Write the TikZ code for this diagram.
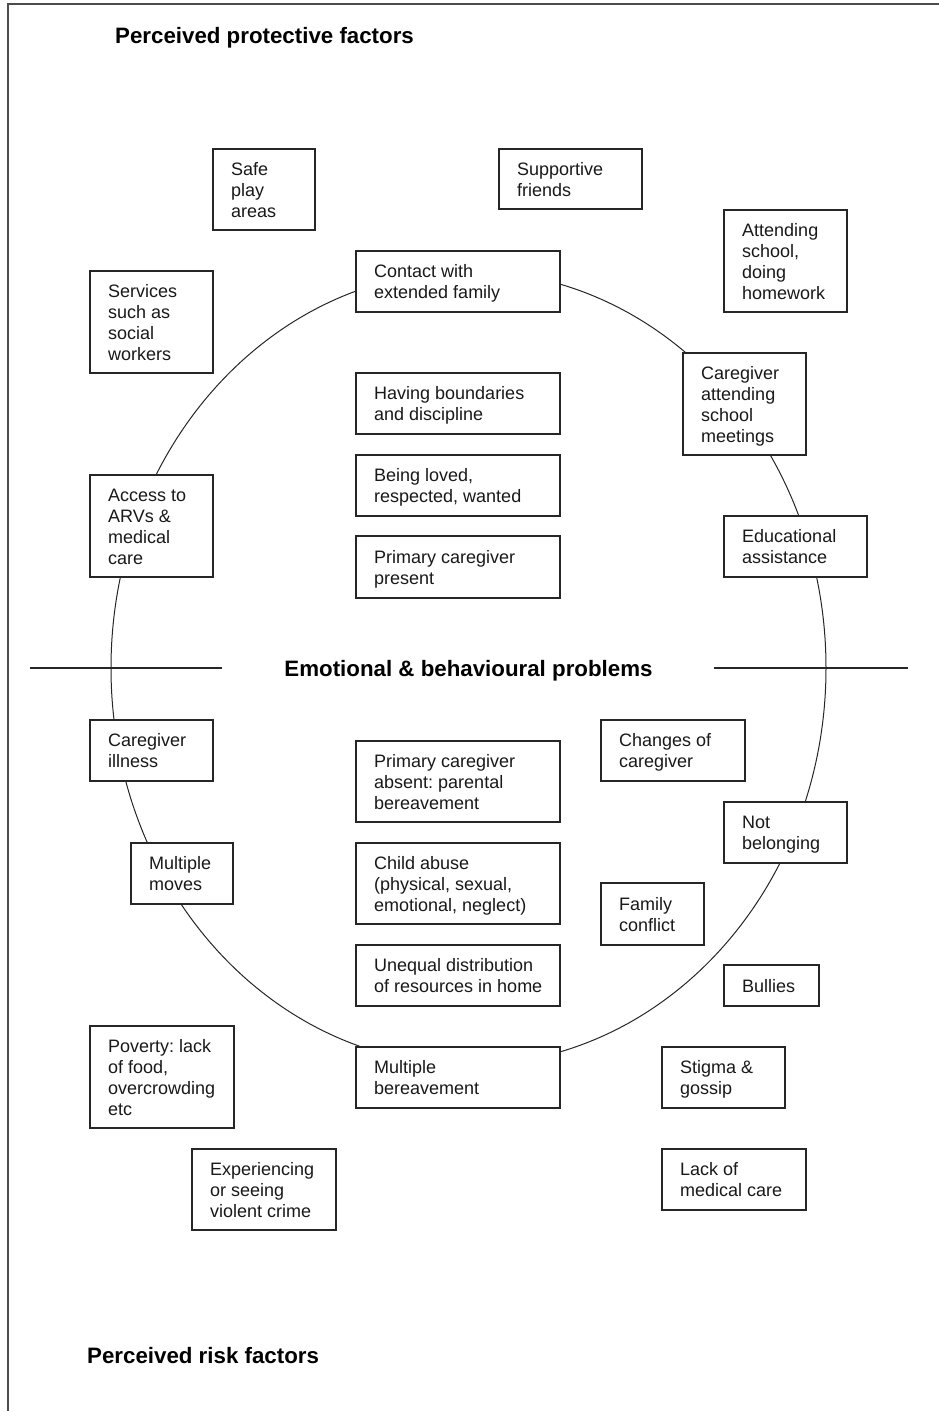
\documentclass[tikz,border=0pt]{standalone}
\usepackage{fontspec}
\setmainfont{Liberation Sans}
\frenchspacing
\usetikzlibrary{shapes.geometric}
\tikzset{
  frameline/.style={draw=black!70, line width=1.6pt},
  ringline/.style={draw=black!85, line width=1pt},
  axisline/.style={draw=black!85, line width=1.1pt},
  fbox/.style={draw=black!85, line width=1.3pt, fill=white, inner sep=0pt, outer sep=0pt},
  ftext/.style={inner sep=0pt, align=left, text=black!90, font=\fontsize{18}{21}\selectfont\frenchspacing},
  head/.style={inner sep=0pt, font=\fontsize{22.3}{26}\selectfont\bfseries, text=black},
}
\newcommand\factorbox[6]{%
  \node[fbox, minimum width=#4-#2, minimum height=#5-#3, anchor=north west] (#1) at (#2,#3) {};
  \node[ftext, anchor=west] (#1t) at ([xshift=18pt]#1.west) {\rule{0pt}{17pt}#6\rule[-4pt]{0pt}{4pt}};
}
\begin{document}
\begin{tikzpicture}[x=1pt, y=-1pt]
\useasboundingbox (0,0) rectangle (939,1411);
% frame
\coordinate (fbl) at (8,1411);
\coordinate (ftl) at (8,4);
\coordinate (ftr) at (939,4);
\draw[frameline] (fbl) -- (ftl) -- (ftr);
% ellipse
\node[ringline, ellipse, inner sep=0pt, minimum width=715pt, minimum height=794pt] (ring) at (468.5,668) {};
% axis lines
\coordinate (la) at (30,668);
\coordinate (lb) at (222,668);
\coordinate (ra) at (714,668);
\coordinate (rb) at (908,668);
\draw[axisline] (la) -- (lb);
\draw[axisline] (ra) -- (rb);
% headings
\node[head, anchor=base west] (hprot) at (115,43) {Perceived protective factors};
\node[head, anchor=base west] (hrisk) at (87,1363) {Perceived risk factors};
\node[head, anchor=base] (hmid) at (468.5,676) {Emotional \& behavioural problems};
% protective factors
\factorbox{safe}{213}{149}{315}{230}{Safe\\play\\areas}
\factorbox{friends}{499}{149}{642}{209}{Supportive\\friends}
\factorbox{school}{724}{210}{847}{312}{Attending\\school,\\doing\\homework}
\factorbox{contact}{356}{251}{560}{312}{Contact with\\extended family}
\factorbox{services}{90}{271}{213}{373}{Services\\such as\\social\\workers}
\factorbox{bounds}{356}{373}{560}{434}{Having boundaries\\and discipline}
\factorbox{loved}{356}{455}{560}{516}{Being loved,\\respected, wanted}
\factorbox{present}{356}{536}{560}{598}{Primary caregiver\\present}
\factorbox{arv}{90}{475}{213}{577}{Access to\\ARVs \&\\medical\\care}
\factorbox{meetings}{683}{353}{806}{455}{Caregiver\\attending\\school\\meetings}
\factorbox{edu}{724}{516}{867}{577}{Educational\\assistance}
% risk factors
\factorbox{illness}{90}{720}{213}{781}{Caregiver\\illness}
\factorbox{absent}{356}{741}{560}{822}{Primary caregiver\\absent: parental\\bereavement}
\factorbox{changes}{601}{720}{745}{781}{Changes of\\caregiver}
\factorbox{notbel}{724}{802}{847}{863}{Not\\belonging}
\factorbox{moves}{131}{843}{233}{904}{Multiple\\moves}
\factorbox{abuse}{356}{843}{560}{924}{Child abuse\\(physical, sexual,\\emotional, neglect)}
\factorbox{conflict}{601}{883}{704}{945}{Family\\conflict}
\factorbox{unequal}{356}{945}{560}{1006}{Unequal distribution\\of resources in home}
\factorbox{bullies}{724}{965}{819}{1006}{Bullies}
\factorbox{poverty}{90}{1026}{234}{1128}{Poverty: lack\\of food,\\overcrowding\\etc}
\factorbox{bereave}{356}{1047}{560}{1108}{Multiple\\bereavement}
\factorbox{stigma}{662}{1047}{785}{1108}{Stigma \&\\gossip}
\factorbox{violent}{192}{1149}{336}{1230}{Experiencing\\or seeing\\violent crime}
\factorbox{medical}{662}{1149}{806}{1210}{Lack of\\medical care}
\end{tikzpicture}
\end{document}
